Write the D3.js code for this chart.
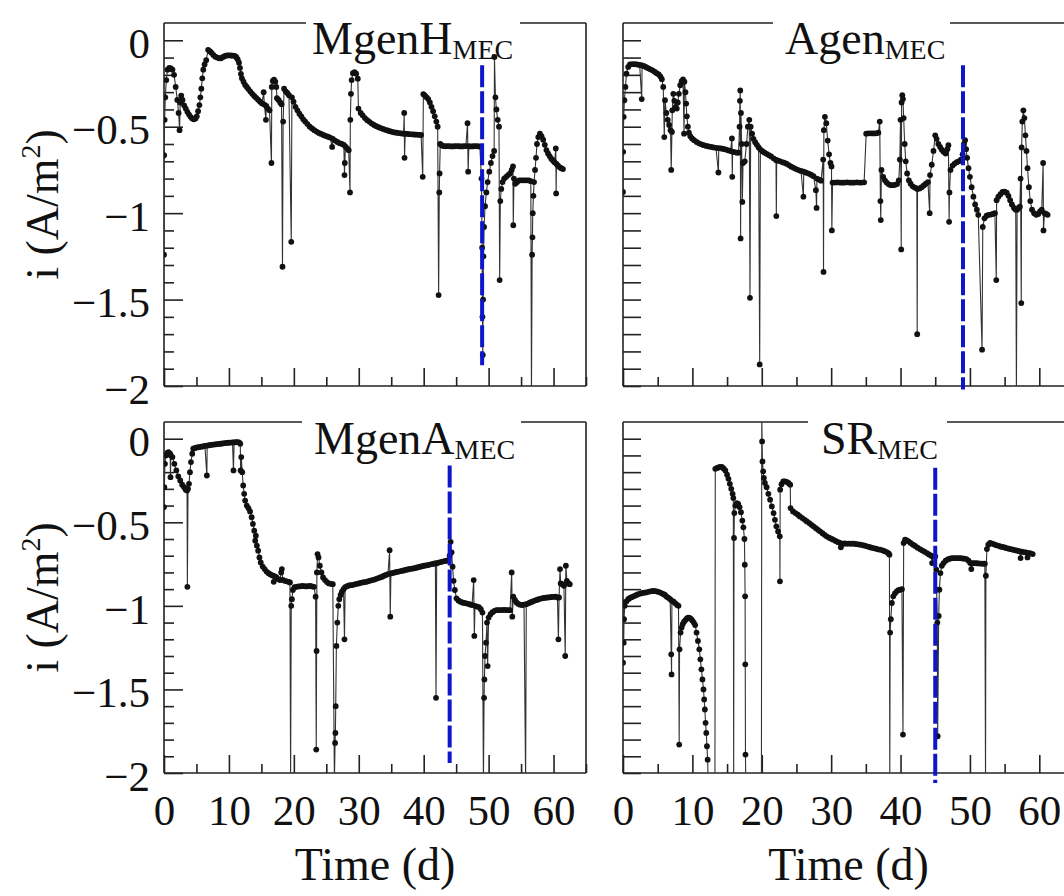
<!DOCTYPE html>
<html>
<head>
<meta charset="utf-8">
<script src="https://cdn.jsdelivr.net/npm/d3@7"></script>
<style>
  body { margin: 0; background: #fff; }
  svg { display: block; font-family: "Liberation Serif", "Times New Roman", serif; }
</style>
</head>
<body>
<svg id="chart" width="1064" height="896"></svg>
<script>
// current density i (A/m2) against time (d), one [day, value] pair per reading
const mgenH = [
  [0,-1.24],[0.02,-0.665],[0.1,-0.46],[0.2,-0.33],[0.35,-0.23],[0.55,-0.17],[0.8,-0.16],[1.05,-0.162],[1.3,-0.17],[1.55,-0.2],
  [1.8,-0.27],[2.05,-0.345],[2.25,-0.42],[2.4,-0.52],[2.5,-0.36],[2.65,-0.32],[2.85,-0.345],[3.1,-0.376],[3.35,-0.395],[3.6,-0.414],
  [3.85,-0.43],[4.1,-0.443],[4.35,-0.452],[4.6,-0.457],[4.85,-0.452],[5.05,-0.44],[5.25,-0.41],[5.45,-0.375],[5.6,-0.33],[5.75,-0.28],
  [5.9,-0.22],[6.05,-0.17],[6.25,-0.14],[6.5,-0.115],[6.8,-0.055],[7.05,-0.063],[7.3,-0.072],[7.6,-0.085],[7.9,-0.095],[8.2,-0.1],
  [8.5,-0.104],[8.8,-0.104],[9.1,-0.096],[9.4,-0.091],[9.7,-0.088],[10,-0.087],[10.3,-0.088],[10.6,-0.089],[10.9,-0.09],[11.15,-0.098],
  [11.35,-0.11],[11.55,-0.13],[11.7,-0.16],[11.85,-0.195],[12,-0.22],[12.25,-0.24],[12.5,-0.258],[12.75,-0.27],[13,-0.282],[13.3,-0.297],
  [13.6,-0.31],[13.9,-0.322],[14.2,-0.333],[14.5,-0.344],[14.8,-0.355],[15.1,-0.365],[15.35,-0.3],[15.45,-0.372],[15.7,-0.46],[15.75,-0.38],
  [16,-0.395],[16.25,-0.405],[16.55,-0.71],[16.6,-0.27],[16.75,-0.235],[16.95,-0.228],[17.15,-0.24],[17.3,-0.27],[17.4,-0.335],[17.65,-0.345],
  [17.9,-0.36],[18.1,-0.37],[18.25,-1.31],[18.35,-0.47],[18.5,-0.28],[18.75,-0.295],[19,-0.305],[19.25,-0.318],[19.6,-1.166],[19.7,-0.33],
  [19.95,-0.355],[20.25,-0.385],[20.55,-0.405],[20.85,-0.425],[21.15,-0.44],[21.45,-0.457],[21.75,-0.47],[22.1,-0.485],[22.45,-0.5],[22.8,-0.51],
  [23.15,-0.52],[23.5,-0.528],[23.85,-0.536],[24.2,-0.542],[24.55,-0.548],[24.9,-0.553],[25.25,-0.558],[25.6,-0.563],[25.9,-0.617],[26,-0.57],
  [26.35,-0.58],[26.7,-0.588],[27.05,-0.595],[27.4,-0.6],[27.7,-0.605],[27.8,-0.78],[27.85,-0.71],[27.95,-0.615],[28.2,-0.625],[28.45,-0.636],
  [28.65,-0.88],[28.7,-0.46],[28.8,-0.31],[28.9,-0.23],[29.1,-0.19],[29.35,-0.185],[29.6,-0.193],[29.85,-0.222],[29.95,-0.395],[30.3,-0.42],
  [30.6,-0.434],[30.95,-0.45],[31.3,-0.462],[31.65,-0.472],[32,-0.482],[32.35,-0.49],[32.7,-0.497],[33.05,-0.503],[33.4,-0.508],[33.75,-0.513],
  [34.1,-0.518],[34.45,-0.522],[34.8,-0.526],[35.15,-0.53],[35.5,-0.533],[35.85,-0.535],[36.2,-0.537],[36.55,-0.539],[36.9,-0.54],[37,-0.42],
  [37.05,-0.68],[37.15,-0.54],[37.5,-0.542],[37.85,-0.543],[38.2,-0.544],[38.55,-0.545],[38.9,-0.546],[39.25,-0.547],[39.6,-0.548],[39.85,-0.79],
  [39.95,-0.312],[40.2,-0.32],[40.45,-0.33],[40.7,-0.34],[40.95,-0.36],[41.2,-0.385],[41.45,-0.41],[41.7,-0.44],[41.95,-0.47],[42.15,-0.5],
  [42.3,-1.474],[42.4,-0.88],[42.45,-0.77],[42.55,-0.6],[42.75,-0.607],[43,-0.612],[43.35,-0.613],[43.7,-0.612],[44.05,-0.613],[44.4,-0.614],
  [44.75,-0.613],[45.1,-0.612],[45.45,-0.613],[45.8,-0.614],[46.15,-0.613],[46.5,-0.612],[46.75,-0.48],[46.85,-0.76],[46.95,-0.613],[47.3,-0.614],
  [47.65,-0.613],[48,-0.612],[48.35,-0.613],[48.65,-0.615],[48.9,-0.8],[49,-1.2],[49.05,-1.6],[49.1,-1.82],[49.15,-1.5],[49.2,-1.25],
  [49.3,-1.08],[49.45,-0.96],[49.65,-0.88],[49.85,-0.82],[50.1,-0.76],[50.35,-0.71],[50.6,-0.67],[50.85,-0.64],[50.9,-0.096],[51.05,-0.33],
  [51.2,-0.4],[51.4,-0.46],[51.6,-0.5],[51.7,-1.387],[51.8,-0.93],[51.95,-0.86],[52.15,-0.82],[52.4,-0.8],[52.7,-0.79],[53,-0.78],
  [53.3,-0.77],[53.55,-0.75],[53.75,-0.73],[53.8,-1.07],[53.9,-0.8],[54.1,-0.83],[54.4,-0.82],[54.7,-0.81],[55,-0.81],[55.3,-0.81],
  [55.6,-0.81],[55.9,-0.81],[56.2,-0.81],[56.5,-0.815],[56.6,-2.05],[56.7,-1.24],[56.75,-1.14],[56.8,-1.0],[56.9,-0.9],[57,-0.82],
  [57.15,-0.75],[57.3,-0.68],[57.45,-0.6],[57.65,-0.56],[57.9,-0.54],[58.15,-0.555],[58.4,-0.575],[58.65,-0.605],[58.9,-0.635],[59.15,-0.655],
  [59.4,-0.67],[59.65,-0.685],[59.9,-0.695],[60.15,-0.705],[60.35,-0.626],[60.4,-0.886],[60.45,-0.715],[60.7,-0.725],[60.95,-0.735],[61.2,-0.74],
  [61.45,-0.745]
];

const agen = [
  [0,-0.877],[0.02,-0.645],[0.1,-0.443],[0.2,-0.347],[0.35,-0.27],[0.5,-0.193],[0.75,-0.154],[1,-0.14],[1.35,-0.138],[1.7,-0.138],
  [2.05,-0.14],[2.4,-0.143],[2.7,-0.34],[2.75,-0.146],[3.05,-0.15],[3.35,-0.156],[3.65,-0.162],[3.95,-0.168],[4.25,-0.174],[4.55,-0.182],
  [4.85,-0.19],[5.15,-0.198],[5.4,-0.21],[5.6,-0.225],[5.8,-0.27],[5.95,-0.56],[6.05,-0.347],[6.25,-0.42],[6.45,-0.46],[6.65,-0.49],
  [6.85,-0.52],[6.95,-0.75],[7.05,-0.53],[7.1,-0.405],[7.25,-0.31],[7.4,-0.35],[7.6,-0.385],[7.75,-0.395],[7.9,-0.36],[8.05,-0.31],
  [8.25,-0.26],[8.45,-0.237],[8.65,-0.227],[8.8,-0.54],[8.85,-0.24],[9,-0.3],[9.1,-0.366],[9.2,-0.44],[9.35,-0.5],[9.5,-0.535],
  [9.7,-0.555],[9.95,-0.568],[10.25,-0.578],[10.6,-0.588],[10.95,-0.596],[11.3,-0.602],[11.65,-0.607],[12,-0.611],[12.35,-0.614],[12.7,-0.617],
  [13.05,-0.62],[13.4,-0.622],[13.75,-0.765],[13.8,-0.624],[14.15,-0.626],[14.5,-0.629],[14.85,-0.632],[15.2,-0.637],[15.5,-0.64],[15.7,-0.568],
  [15.75,-0.79],[15.8,-0.645],[16.1,-0.647],[16.4,-0.65],[16.65,-0.65],[16.8,-0.5],[16.85,-0.35],[16.9,-0.29],[16.95,-1.146],[17,-0.42],
  [17.1,-0.6],[17.2,-0.935],[17.3,-0.71],[17.55,-0.7],[17.8,-0.6],[18,-0.5],[18.2,-0.46],[18.3,-1.49],[18.4,-0.5],[18.6,-0.54],
  [18.8,-0.57],[19.05,-0.59],[19.3,-0.605],[19.55,-0.62],[19.7,-1.875],[19.8,-0.632],[20.1,-0.642],[20.4,-0.65],[20.7,-0.657],[21,-0.664],
  [21.35,-0.672],[21.7,-0.683],[22.05,-0.692],[22.1,-1.017],[22.15,-0.694],[22.5,-0.698],[22.85,-0.703],[23.2,-0.708],[23.55,-0.714],[23.9,-0.722],
  [24.25,-0.731],[24.6,-0.738],[24.95,-0.745],[25.3,-0.751],[25.65,-0.756],[26,-0.905],[26.05,-0.76],[26.4,-0.766],[26.75,-0.771],[27.1,-0.778],
  [27.45,-0.786],[27.8,-0.867],[27.9,-0.97],[27.95,-0.8],[28.25,-0.806],[28.55,-0.812],[28.85,-0.69],[28.9,-1.34],[28.95,-0.52],[29.1,-0.443],
  [29.3,-0.48],[29.5,-0.58],[29.7,-0.66],[29.9,-0.71],[30.05,-0.73],[30.1,-1.1],[30.2,-0.823],[30.55,-0.823],[30.9,-0.822],[31.25,-0.823],
  [31.6,-0.824],[31.95,-0.823],[32.3,-0.822],[32.65,-0.823],[33,-0.824],[33.35,-0.823],[33.7,-0.822],[34.05,-0.823],[34.4,-0.823],[34.75,-0.822],
  [35.05,-0.54],[35.4,-0.538],[35.75,-0.538],[36.1,-0.539],[36.45,-0.538],[36.8,-0.535],[37,-0.47],[37.1,-0.93],[37.15,-1.04],[37.25,-0.75],
  [37.5,-0.79],[37.75,-0.81],[38,-0.823],[38.3,-0.833],[38.6,-0.838],[38.9,-0.838],[39.2,-0.836],[39.5,-0.832],[39.75,-0.81],[39.9,-0.69],
  [40,-0.46],[40.1,-1.21],[40.15,-0.36],[40.25,-0.318],[40.35,-0.34],[40.45,-0.45],[40.6,-0.6],[40.75,-0.7],[40.95,-0.77],[41.2,-0.81],
  [41.45,-0.83],[41.75,-0.845],[42.05,-0.852],[42.35,-0.857],[42.4,-1.7],[42.45,-0.86],[42.75,-0.857],[43.05,-0.85],[43.35,-0.84],[43.65,-0.83],
  [43.95,-0.82],[44.2,-1],[44.25,-0.78],[44.5,-0.72],[44.75,-0.64],[45,-0.55],[45.2,-0.57],[45.45,-0.6],[45.7,-0.617],[45.95,-0.633],
  [46.2,-0.645],[46.5,-0.655],[46.75,-0.63],[46.9,-0.607],[47,-1.05],[47.05,-0.88],[47.2,-0.75],[47.5,-0.725],[47.8,-0.713],[48.1,-0.705],
  [48.4,-0.7],[48.7,-0.69],[48.95,-0.66],[49.15,-0.6],[49.3,-0.578],[49.45,-0.63],[49.6,-0.68],[49.8,-0.74],[50,-0.79],[50.25,-0.85],
  [50.5,-0.905],[50.75,-0.95],[51,-0.98],[51.2,-1.01],[51.75,-1.79],[51.85,-1.08],[52.1,-1.03],[52.4,-1.015],[52.7,-1.01],[53,-1.008],
  [53.3,-1.005],[53.6,-1],[53.8,-1.387],[53.85,-0.925],[54.1,-0.905],[54.4,-0.89],[54.7,-0.877],[55,-0.876],[55.3,-0.882],[55.55,-0.9],
  [55.8,-0.925],[56.05,-0.95],[56.35,-0.97],[56.6,-0.98],[56.7,-2.05],[56.8,-0.98],[57,-0.97],[57.2,-0.963],[57.3,-0.8],[57.4,-1.52],
  [57.45,-0.62],[57.55,-0.47],[57.7,-0.405],[57.85,-0.45],[58,-0.55],[58.15,-0.64],[58.3,-0.74],[58.5,-0.85],[58.7,-0.93],[58.95,-0.98],
  [59.25,-1],[59.55,-1.01],[59.85,-1.005],[60.1,-0.99],[60.35,-0.98],[60.55,-0.71],[60.6,-1.1],[60.75,-1],[61,-1.005],[61.2,-1.01]
];

const mgenA = [
  [0,-0.41],[0.05,-0.29],[0.15,-0.15],[0.3,-0.1],[0.5,-0.085],[0.7,-0.08],[0.95,-0.09],[1,-0.23],[1.05,-0.1],[1.3,-0.11],
  [1.6,-0.15],[1.9,-0.19],[2.2,-0.225],[2.5,-0.25],[2.8,-0.275],[3.1,-0.29],[3.35,-0.305],[3.55,-0.31],[3.6,-0.886],[3.7,-0.3],
  [3.85,-0.27],[4,-0.2],[4.15,-0.14],[4.35,-0.09],[4.5,-0.06],[4.8,-0.055],[5.1,-0.052],[5.4,-0.05],[5.7,-0.048],[6,-0.046],
  [6.3,-0.043],[6.6,-0.22],[6.65,-0.041],[6.95,-0.039],[7.25,-0.037],[7.55,-0.035],[7.85,-0.034],[8.15,-0.032],[8.45,-0.031],[8.75,-0.03],
  [9.05,-0.028],[9.35,-0.026],[9.65,-0.025],[9.95,-0.024],[10.25,-0.023],[10.55,-0.022],[10.7,-0.19],[10.8,-0.022],[11.05,-0.021],[11.3,-0.02],
  [11.55,-0.022],[11.75,-0.03],[11.8,-0.19],[11.9,-0.11],[12.05,-0.2],[12.2,-0.28],[12.35,-0.33],[12.5,-0.37],[12.75,-0.4],[13,-0.415],
  [13.25,-0.435],[13.5,-0.47],[13.7,-0.51],[13.9,-0.55],[14.05,-0.61],[14.15,-0.58],[14.3,-0.64],[14.5,-0.67],[14.7,-0.71],[14.9,-0.74],
  [15.2,-0.765],[15.5,-0.78],[15.8,-0.795],[16.1,-0.805],[16.4,-0.812],[16.7,-0.818],[16.9,-0.856],[17,-0.822],[17.3,-0.828],[17.6,-0.84],
  [17.85,-0.846],[18.05,-0.8],[18.15,-0.78],[18.3,-0.845],[18.6,-0.85],[18.9,-0.853],[19.2,-0.856],[19.4,-0.86],[19.5,-2.05],[19.6,-1],
  [19.7,-0.96],[19.85,-0.905],[20.1,-0.888],[20.4,-0.886],[20.7,-0.884],[21,-0.883],[21.3,-0.88],[21.6,-0.882],[21.9,-0.884],[22.2,-0.882],
  [22.5,-0.88],[22.8,-0.884],[23.1,-0.886],[23.35,-0.945],[23.45,-1.86],[23.5,-1.27],[23.55,-0.8],[23.65,-0.69],[23.8,-0.71],[24,-0.76],
  [24.25,-0.8],[24.5,-0.83],[24.8,-0.846],[25.1,-0.858],[25.4,-0.866],[25.7,-0.868],[26,-0.87],[26.25,-2.05],[26.35,-1.82],[26.4,-1.76],
  [26.45,-1.6],[26.55,-1.24],[26.7,-1.1],[26.85,-1],[27,-0.96],[27.2,-0.935],[27.4,-0.915],[27.65,-0.9],[27.8,-1.2],[27.9,-0.888],
  [28.2,-0.882],[28.5,-0.878],[28.8,-0.876],[29.1,-0.874],[29.4,-0.871],[29.7,-0.868],[30,-0.866],[30.3,-0.862],[30.6,-0.86],[30.9,-0.858],
  [31.2,-0.856],[31.5,-0.852],[31.8,-0.849],[32.1,-0.846],[32.4,-0.843],[32.7,-0.838],[33,-0.834],[33.3,-0.83],[33.6,-0.826],[33.9,-0.82],
  [34.2,-0.815],[34.5,-0.81],[34.75,-0.667],[34.85,-1.065],[34.95,-0.806],[35.25,-0.803],[35.55,-0.8],[35.85,-0.797],[36.15,-0.795],[36.45,-0.792],
  [36.75,-0.79],[37.05,-0.787],[37.35,-0.784],[37.65,-0.781],[37.95,-0.779],[38.25,-0.777],[38.55,-0.775],[38.85,-0.772],[39.15,-0.769],[39.45,-0.766],
  [39.75,-0.763],[40.05,-0.76],[40.35,-0.758],[40.65,-0.756],[40.95,-0.753],[41.25,-0.75],[41.55,-0.748],[41.8,-0.746],[41.9,-1.55],[42,-0.745],
  [42.3,-0.741],[42.6,-0.738],[42.9,-0.735],[43.2,-0.732],[43.5,-0.73],[43.8,-0.728],[44,-0.7],[44.15,-0.617],[44.3,-0.68],[44.45,-0.766],
  [44.6,-0.85],[44.8,-0.905],[45.05,-0.955],[45.35,-0.968],[45.65,-0.975],[45.95,-0.98],[46.25,-0.983],[46.55,-0.985],[46.85,-0.988],[47.15,-0.992],
  [47.45,-0.995],[47.7,-0.846],[47.8,-1.18],[47.9,-1],[48.2,-1.004],[48.5,-1.007],[48.8,-1.02],[49.05,-1.04],[49.2,-2.05],[49.3,-1.55],
  [49.35,-1.44],[49.45,-1.3],[49.6,-1.22],[49.75,-1.1],[49.85,-1.36],[50,-1.07],[50.3,-1.05],[50.6,-1.038],[50.9,-1.03],[51.2,-1.026],
  [51.5,-1.025],[51.8,-1.025],[52.1,-1.025],[52.4,-1.024],[52.7,-1.025],[53,-1.025],[53.3,-1.026],[53.55,-0.8],[53.65,-1.065],[53.8,-0.945],
  [54.05,-0.965],[54.3,-0.98],[54.55,-0.988],[54.85,-0.993],[55.15,-0.995],[55.45,-0.993],[55.7,-2.05],[55.8,-0.99],[56.1,-0.985],[56.4,-0.98],
  [56.7,-0.975],[57,-0.97],[57.3,-0.966],[57.6,-0.962],[57.9,-0.958],[58.2,-0.955],[58.5,-0.953],[58.8,-0.951],[59.1,-0.95],[59.4,-0.949],
  [59.7,-0.947],[60,-0.946],[60.3,-0.945],[60.6,-0.95],[60.75,-1.2],[60.85,-0.95],[61,-0.78],[61.1,-0.866],[61.35,-0.87],[61.6,-0.88],
  [61.8,-1.3],[61.9,-0.76],[62.05,-0.85],[62.3,-0.866],[62.5,-0.87]
];

const sr = [
  [0,-1.34],[0.05,-0.98],[0.1,-1.22],[0.15,-1.08],[0.25,-1],[0.5,-0.973],[0.75,-0.96],[1,-0.953],[1.25,-0.948],[1.5,-0.943],
  [1.8,-0.938],[2.1,-0.932],[2.45,-0.927],[2.8,-0.923],[3.1,-0.921],[3.4,-0.919],[3.75,-0.915],[4.1,-0.912],[4.4,-0.911],[4.7,-0.912],
  [5,-0.915],[5.3,-0.919],[5.6,-0.925],[5.85,-0.93],[6.05,-0.935],[6.3,-0.945],[6.55,-0.952],[6.8,-0.96],[6.95,-1.29],[7,-1.41],
  [7.05,-0.97],[7.3,-0.975],[7.55,-0.985],[7.8,-0.995],[8,-1],[8.1,-1.83],[8.15,-1.26],[8.3,-1.16],[8.45,-1.13],[8.6,-1.11],
  [8.8,-1.095],[9,-1.085],[9.2,-1.075],[9.4,-1.07],[9.6,-1.072],[9.8,-1.078],[10,-1.088],[10.2,-1.1],[10.4,-1.115],[10.6,-1.16],
  [10.8,-1.21],[11,-1.26],[11.15,-1.32],[11.3,-1.38],[11.45,-1.44],[11.6,-1.5],[11.7,-1.56],[11.8,-1.62],[11.9,-1.7],[12,-1.76],
  [12.1,-1.84],[12.2,-1.92],[12.3,-2.1],[13.25,-2.1],[13.3,-0.18],[13.5,-0.176],[13.75,-0.172],[14,-0.168],[14.25,-0.168],[14.5,-0.178],
  [14.75,-0.19],[15,-0.215],[15.2,-0.24],[15.4,-0.27],[15.6,-0.3],[15.8,-0.33],[15.9,-0.355],[15.95,-2.05],[16,-0.594],[16.05,-0.445],
  [16.2,-0.4],[16.4,-0.385],[16.6,-0.39],[16.8,-0.41],[17,-0.44],[17.2,-0.49],[17.35,-0.53],[17.5,-0.6],[17.55,-0.754],[17.6,-0.943],
  [17.62,-1.35],[17.65,-1.89],[17.7,-2.1],[19.95,-2.1],[20,0.15],[20.05,-0.016],[20.1,-0.136],[20.2,-0.195],[20.3,-0.235],[20.45,-0.265],
  [20.7,-0.29],[20.95,-0.33],[21.2,-0.365],[21.45,-0.405],[21.7,-0.445],[21.9,-0.485],[22.1,-0.524],[22.35,-0.555],[22.6,-0.584],[22.62,-0.853],
  [22.65,-0.305],[22.85,-0.272],[23.1,-0.255],[23.35,-0.255],[23.6,-0.258],[23.85,-0.265],[24.1,-0.275],[24.15,-0.415],[24.5,-0.435],[24.85,-0.445],
  [25.2,-0.455],[25.5,-0.465],[25.85,-0.475],[26.2,-0.485],[26.5,-0.495],[26.85,-0.505],[27.15,-0.515],[27.45,-0.524],[27.8,-0.535],[28.1,-0.545],
  [28.4,-0.554],[28.75,-0.565],[29.05,-0.575],[29.35,-0.584],[29.7,-0.592],[30,-0.598],[30.3,-0.604],[30.65,-0.612],[31,-0.619],[31.3,-0.624],
  [31.4,-0.65],[31.6,-0.63],[31.9,-0.627],[32.2,-0.628],[32.55,-0.628],[32.9,-0.628],[33.2,-0.628],[33.55,-0.63],[33.9,-0.632],[34.2,-0.634],
  [34.55,-0.637],[34.85,-0.64],[35.15,-0.644],[35.5,-0.648],[35.8,-0.652],[36.1,-0.654],[36.45,-0.658],[36.75,-0.662],[37.05,-0.664],[37.4,-0.668],
  [37.7,-0.673],[38,-0.678],[38.25,-0.685],[38.4,-0.694],[38.45,-2.05],[38.5,-1.16],[38.6,-1.08],[38.75,-0.983],[38.95,-0.943],[39.2,-0.925],
  [39.45,-0.913],[39.7,-0.906],[39.95,-0.903],[40.2,-0.9],[40.35,-1.77],[40.45,-0.624],[40.65,-0.604],[40.9,-0.608],[41.15,-0.614],[41.45,-0.624],
  [41.8,-0.634],[42.1,-0.642],[42.45,-0.652],[42.8,-0.66],[43.1,-0.668],[43.45,-0.676],[43.8,-0.684],[44.1,-0.692],[44.4,-0.7],[44.55,-0.744],
  [44.7,-0.704],[45,-0.704],[45.15,-0.784],[45.2,-0.903],[45.3,-1.1],[45.35,-1.78],[45.5,-1.06],[45.6,-0.903],[45.75,-0.804],[45.95,-0.76],
  [46.2,-0.744],[46.5,-0.73],[46.8,-0.722],[47.1,-0.718],[47.4,-0.715],[47.7,-0.714],[48,-0.714],[48.3,-0.714],[48.6,-0.715],[48.9,-0.716],
  [49.2,-0.718],[49.5,-0.72],[49.8,-0.73],[50.05,-0.744],[50.2,-0.78],[50.35,-0.745],[50.65,-0.744],[50.95,-0.745],[51.25,-0.746],[51.55,-0.747],
  [51.85,-0.748],[52.15,-0.748],[52.25,-2.05],[52.3,-0.82],[52.45,-0.66],[52.65,-0.634],[52.9,-0.624],[53.2,-0.628],[53.5,-0.632],[53.8,-0.637],
  [54.1,-0.641],[54.4,-0.645],[54.7,-0.648],[55,-0.651],[55.3,-0.655],[55.6,-0.658],[55.9,-0.661],[56.2,-0.664],[56.5,-0.667],[56.8,-0.67],
  [57.1,-0.673],[57.3,-0.714],[57.45,-0.676],[57.75,-0.678],[58.05,-0.68],[58.3,-0.71],[58.45,-0.683],[58.75,-0.686],[59.05,-0.69]
];

// panel names (main part + subscript)
const titleMain = ["MgenH", "Agen", "MgenA", "SR"];
const titleSub = ["MEC", "MEC", "MEC", "MEC"];

// blue dashed marker: day, upper and lower end (A/m2)
const markerDay = [49, 49, 44, 45];
const markerTop = [-0.145, -0.145, -0.16, -0.174];
const markerBottom = [-1.88, -2.02, -1.94, -2.06];

const yMajorTicks = [0, -0.5, -1, -1.5, -2];
const yMinorTicks = [-0.1, -0.2, -0.3, -0.4, -0.6, -0.7, -0.8, -0.9, -1.1, -1.2, -1.3, -1.4, -1.6, -1.7, -1.8, -1.9];
const xMajorTicks = [0, 10, 20, 30, 40, 50, 60];
const xMinorTicks = [5, 15, 25, 35, 45, 55, 65];

const svg = d3.select("#chart");

// layout of the four boxes (the right column runs past the page edge, as in the source figure)
const panels = [
  { data: mgenH, left: 164, right: 586, top: 23, bottom: 386, gap: [306, 520], tx: 312, ty: 54, col: 0, row: 0 },
  { data: agen,  left: 623, right: 1074, top: 23, bottom: 386, gap: [773, 950], tx: 785, ty: 54, col: 1, row: 0 },
  { data: mgenA, left: 164, right: 586, top: 422, bottom: 773, gap: [302, 521], tx: 314, ty: 454, col: 0, row: 1 },
  { data: sr,    left: 623, right: 1074, top: 422, bottom: 773, gap: [808, 947], tx: 821, ty: 454, col: 1, row: 1 }
];

const fmt = d => d === 0 ? "0" : "\u2212" + Math.abs(d);

panels.forEach((p, i) => {
    const x = d3.scaleLinear().domain([0, 65]).range([p.left, p.right]);
    const y = d3.scaleLinear().domain([-2, 0.1]).range([p.bottom, p.top]);
    const g = svg.append("g");

    // clip the series to the box
    svg.append("clipPath").attr("id", "clip" + i)
        .append("rect")
        .attr("x", p.left).attr("y", p.top)
        .attr("width", p.right - p.left).attr("height", p.bottom - p.top);

    // x ticks, pointing into the box
    const xMajor = g.append("g")
        .attr("transform", `translate(0,${p.bottom})`)
        .call(d3.axisBottom(x).tickValues(xMajorTicks).tickSize(-18).tickPadding(21)
            .tickFormat(p.row === 1 ? d => d : ""));
    g.append("g")
        .attr("transform", `translate(0,${p.bottom})`)
        .call(d3.axisBottom(x).tickValues(xMinorTicks).tickSize(-9).tickFormat(""));

    // y ticks
    if (p.col === 0) {
        g.append("g")
            .attr("transform", `translate(${p.left},0)`)
            .call(d3.axisLeft(y).tickValues(yMajorTicks).tickSize(-19).tickPadding(14).tickFormat(fmt));
        g.append("g")
            .attr("transform", `translate(${p.left},0)`)
            .call(d3.axisLeft(y).tickValues(yMinorTicks).tickSize(-10).tickFormat(""));
    } else {
        g.append("g")
            .attr("transform", `translate(${p.left},0)`)
            .call(d3.axisLeft(y).tickValues(yMajorTicks.concat(yMinorTicks)).tickSize(-18).tickFormat(""));
    }

    g.selectAll(".domain").remove();
    g.selectAll(".tick line").attr("stroke", "#222").attr("stroke-width", 1.6);
    g.selectAll(".tick text")
        .attr("font-family", "Liberation Serif, Times New Roman, serif")
        .attr("font-size", 43)
        .attr("fill", "#111");
    g.selectAll(".tick text").filter(function () { return this.parentNode.parentNode !== xMajor.node(); })
        .attr("dy", "0.4em");

    // frame, with the top edge broken for the title
    const frame = g.append("g").attr("stroke", "#222").attr("stroke-width", 1.6);
    frame.append("line").attr("x1", p.left).attr("x2", p.left).attr("y1", p.top).attr("y2", p.bottom);
    frame.append("line").attr("x1", p.right).attr("x2", p.right).attr("y1", p.top).attr("y2", p.bottom);
    frame.append("line").attr("x1", p.left).attr("x2", p.right).attr("y1", p.bottom).attr("y2", p.bottom);
    frame.append("line").attr("x1", p.left).attr("x2", p.gap[0]).attr("y1", p.top).attr("y2", p.top);
    frame.append("line").attr("x1", p.gap[1]).attr("x2", p.right).attr("y1", p.top).attr("y2", p.top);

    // series: thin connecting line plus a dot per reading
    const plot = g.append("g").attr("clip-path", `url(#clip${i})`);
    plot.append("path")
        .datum(p.data)
        .attr("fill", "none")
        .attr("stroke", "#333")
        .attr("stroke-width", 1.1)
        .attr("d", d3.line().x(d => x(d[0])).y(d => y(d[1])));
    plot.append("g")
        .selectAll("circle")
        .data(p.data)
        .enter()
        .append("circle")
        .attr("cx", d => x(d[0]))
        .attr("cy", d => y(d[1]))
        .attr("r", 2.9)
        .attr("fill", "#111");

    // blue dashed marker
    g.append("line")
        .attr("x1", x(markerDay[i])).attr("x2", x(markerDay[i]))
        .attr("y1", y(markerTop[i])).attr("y2", y(markerBottom[i]))
        .attr("stroke", "#0d17c9")
        .attr("stroke-width", 4)
        .attr("stroke-dasharray", "22 4");

    // title
    const t = g.append("text")
        .attr("x", p.tx).attr("y", p.ty)
        .attr("font-size", 46)
        .attr("fill", "#111")
        .text(titleMain[i]);
    t.append("tspan").attr("font-size", 28).attr("dy", 5).text(titleSub[i]);

    // axis titles
    if (p.row === 1) {
        g.append("text")
            .attr("x", (p.left + p.right) / 2).attr("y", 880)
            .attr("text-anchor", "middle")
            .attr("font-size", 46)
            .attr("fill", "#111")
            .text("Time (d)");
    }
    if (p.col === 0) {
        const cy = (p.top + p.bottom) / 2;
        const lab = g.append("text")
            .attr("transform", `translate(58,${cy}) rotate(-90)`)
            .attr("text-anchor", "middle")
            .attr("font-size", 46)
            .attr("fill", "#111");
        lab.append("tspan").text("i (A/m");
        lab.append("tspan").attr("font-size", 28).attr("dy", -18).text("2");
        lab.append("tspan").attr("dy", 18).text(")");
    }
});
</script>
</body>
</html>
